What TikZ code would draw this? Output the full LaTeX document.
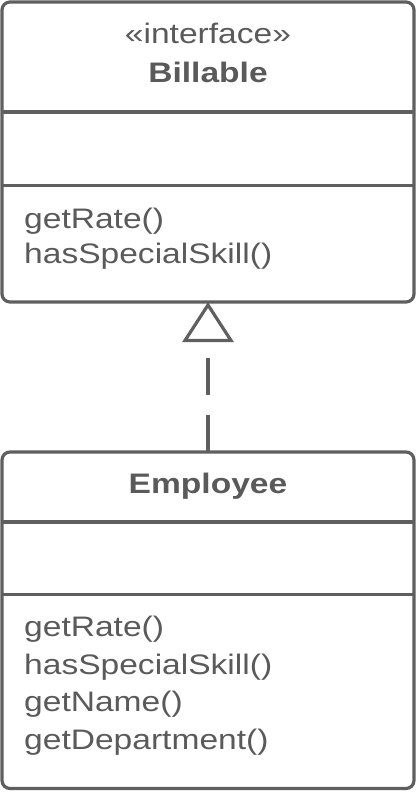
\documentclass[tikz,border=0pt]{standalone}
\usepackage{fontspec}
\setmainfont[FakeStretch=1.19]{Liberation Sans}
\usetikzlibrary{arrows.meta}
\definecolor{umlline}{HTML}{5F5F5F}
\definecolor{umltext}{HTML}{5A5A5A}
\tikzset{
  classbox/.style={draw=umlline, line width=3.2pt, rounded corners=8pt, fill=white,
    inner sep=0pt, outer sep=0pt, minimum width=412pt},
  divider/.style={draw=umlline, line width=3.2pt},
  title/.style={anchor=base, inner sep=0pt, text=umltext, font=\fontsize{28.2}{33}\selectfont},
  member/.style={anchor=base west, inner sep=0pt, text=umltext, font=\fontsize{28.2}{33}\selectfont},
  realize/.style={draw=umlline, line width=3.2pt, dash pattern=on 37pt off 20pt,
    -{Triangle[open, length=40pt, width=51pt, line width=3.2pt]}}
}
\begin{document}
\begin{tikzpicture}[x=1pt,y=-1pt]
\useasboundingbox (0,0) rectangle (417,792);
% boxes
\node[classbox, minimum height=300pt] (billable) at (208,152) {};
\node[classbox, minimum height=336.5pt] (employee) at (208,620.25) {};
% dividers
\draw[divider] (2,112) -- (414,112);
\draw[divider] (2,185.5) -- (414,185.5);
\draw[divider] (2,522) -- (414,522);
\draw[divider] (2,594.5) -- (414,594.5);
% texts
\node[title] (stereo) at (208,43.3) {«interface»};
\node[title, font=\fontsize{28.2}{33}\selectfont\bfseries] (bname) at (208,82.7) {Billable};
\node[member] (b1) at (24,228.3) {getRate()};
\node[member] (b2) at (24,263.3) {hasSpecialSkill()};
\node[title, font=\fontsize{28.2}{33}\selectfont\bfseries] (ename) at (208,493.3) {Employee};
\node[member] (e1) at (24,636.7) {getRate()};
\node[member] (e2) at (24,674.2) {hasSpecialSkill()};
\node[member] (e3) at (24,711.7) {getName()};
\node[member] (e4) at (24,749) {getDepartment()};
% realization
\draw[realize] (employee.north) -- (billable.south);
\end{tikzpicture}
\end{document}
